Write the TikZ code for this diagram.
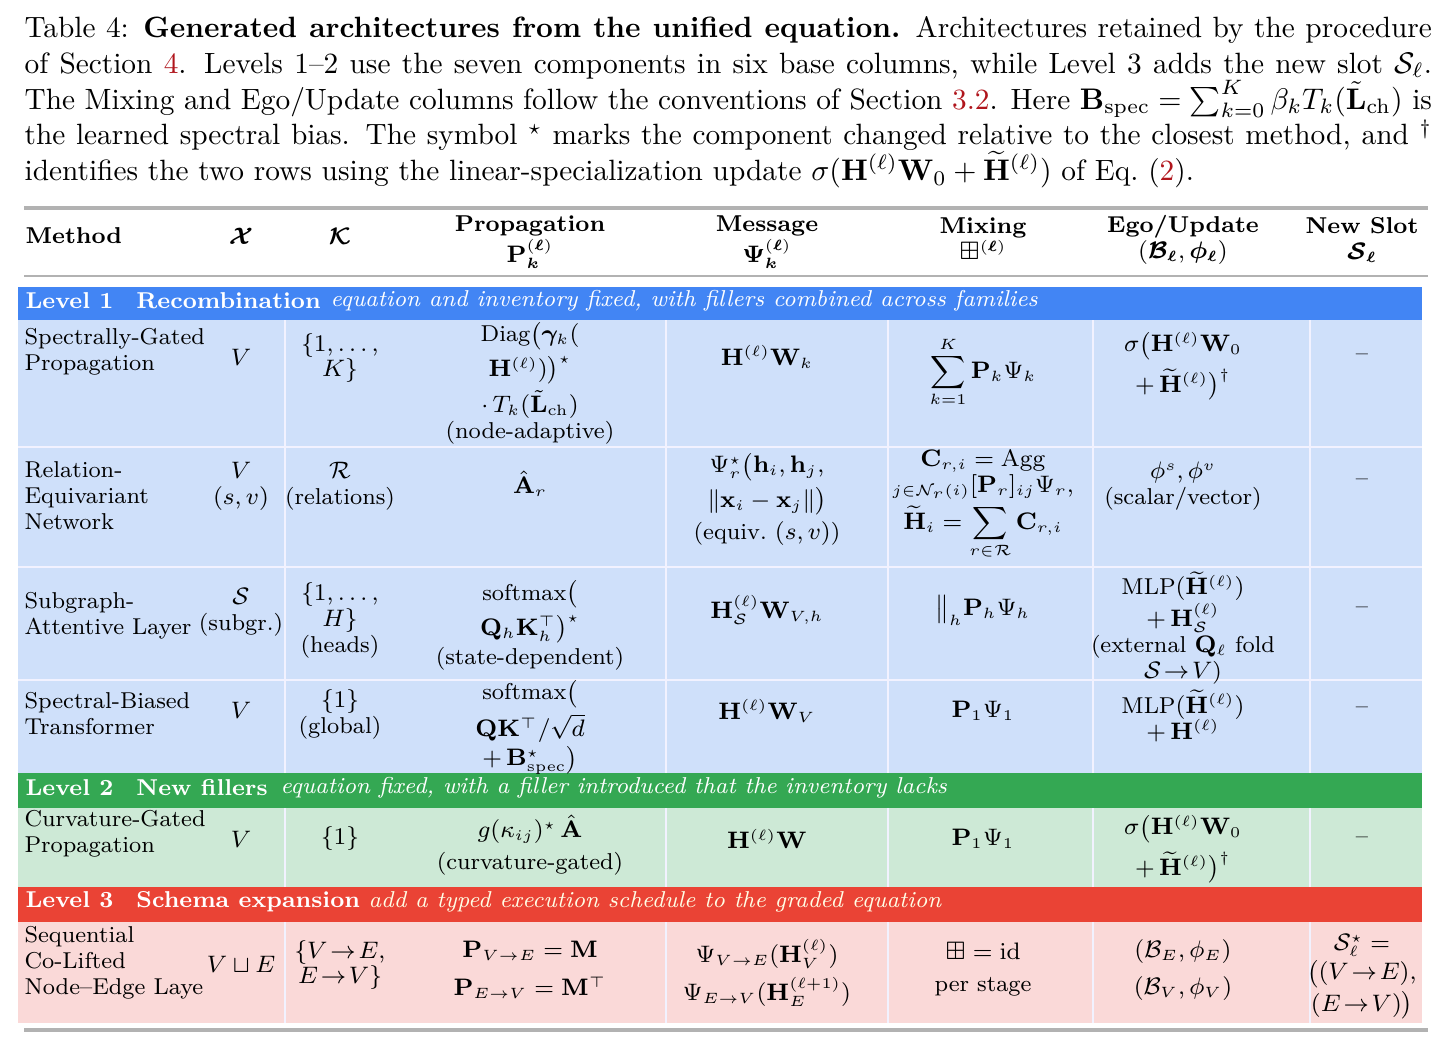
\documentclass[tikz,border=0pt]{standalone}
\usepackage{amsmath,amssymb,bm}
\usepackage{tikz}
\usetikzlibrary{positioning}
\definecolor{bandA}{HTML}{4285F4}
\definecolor{fillA}{HTML}{CFE0FA}
\definecolor{bandB}{HTML}{34A853}
\definecolor{fillB}{HTML}{CDE9D6}
\definecolor{bandC}{HTML}{EA4335}
\definecolor{fillC}{HTML}{FAD9D8}
\definecolor{refred}{HTML}{B0151C}
\newcommand{\cellfont}{\fontsize{7.7}{8.7}\selectfont}
\tikzset{%
  % styles for the table cells
  cell/.style = {align=center, font=\cellfont, inner sep=0pt},
  meth/.style = {anchor=north west, align=left, font=\cellfont, inner sep=0pt},
  head/.style = {align=center, font=\cellfont\bfseries, inner sep=0pt},
  band/.style = {anchor=west, font=\cellfont\bfseries, text=white, inner sep=0pt},
  note/.style = {anchor=west, font=\cellfont\itshape, text=white, inner sep=0pt},
  rule/.style = {draw=black!30, line width=1.2pt},
  sep/.style  = {draw=white!75!blue!20, line width=0.4pt},
}
\begin{document}
\begin{tikzpicture}[x=0.0118cm, y=-0.0118cm]
  \useasboundingbox (0,0) rectangle (1449,1049);
  % caption
  \node (cap) [anchor=north west, inner sep=0pt, text width=16.6cm, align=justify,
    font=\fontsize{9.85}{12}\selectfont] at (24,16)
   {Table 4: \textbf{Generated architectures from the unified equation.} Architectures retained by the procedure
    of Section \textcolor{refred}{4}. Levels 1--2 use the seven components in six base columns, while Level 3 adds the new slot $\mathcal{S}_\ell$.
    The Mixing and Ego/Update columns follow the conventions of Section \textcolor{refred}{3.2}. Here $\mathbf{B}_{\mathrm{spec}}=\sum_{k=0}^{K}\beta_kT_k(\tilde{\mathbf{L}}_{\mathrm{ch}})$ is
    the learned spectral bias. The symbol ${}^\star$ marks the component changed relative to the closest method, and ${}^\dagger$
    identifies the two rows using the linear-specialization update $\sigma(\mathbf{H}^{(\ell)}\mathbf{W}_0+\widetilde{\mathbf{H}}^{(\ell)})$ of Eq.~(\textcolor{refred}{2}).};

  % backgrounds
  \fill[bandA] (18,287) rectangle (1422,320);
  \fill[fillA] (18,320) rectangle (1422,773);
  \fill[bandB] (18,773) rectangle (1422,808);
  \fill[fillB] (18,808) rectangle (1422,887);
  \fill[bandC] (18,887) rectangle (1422,922);
  \fill[fillC] (18,922) rectangle (1422,1023);
  % faint grid
  \foreach \yy in {447,567,680} \draw[sep] (18,\yy) -- (1422,\yy);
  \foreach \xx in {285,666,888,1093,1310}{
    \draw[sep] (\xx,320) -- (\xx,773);
    \draw[sep] (\xx,808) -- (\xx,887);
    \draw[sep] (\xx,922) -- (\xx,1023);
  }
  % rules
  \draw[rule] (24,208) -- (1428,208);
  \draw[rule, line width=0.8pt] (24,276) -- (1428,276);
  \draw[rule] (24,1030) -- (1428,1030);

  % header
  \node (hMeth) [head, anchor=west] at (25,236) {Method};
  \node (hX) [head] at (241,236) {$\bm{\mathcal{X}}$};
  \node (hK) [head] at (340,236) {$\bm{\mathcal{K}}$};
  \node (hProp) [head] at (530,242) {Propagation\\ $\mathbf{P}_{\bm k}^{(\bm\ell)}$};
  \node (hMsg) [head] at (767,242) {Message\\ $\bm\Psi_{\bm k}^{(\bm\ell)}$};
  \node (hMix) [head] at (983,239) {Mixing\\ $\boxplus^{(\bm\ell)}$};
  \node (hEgo) [head] at (1183,240) {Ego/Update\\ $(\bm{\mathcal{B}_\ell},\bm{\phi_\ell})$};
  \node (hNew) [head] at (1362,240) {New Slot\\ $\bm{\mathcal{S}_\ell}$};

  % level bands
  \node (lev1) [band] at (25,301) {Level 1\quad Recombination};
  \node (lev1n) [note] at (330,301) {equation and inventory fixed, with fillers combined across families};
  \node (lev2) [band] at (25,788) {Level 2\quad New fillers};
  \node (lev2n) [note] at (280,788) {equation fixed, with a filler introduced that the inventory lacks};
  \node (lev3) [band] at (25,902) {Level 3\quad Schema expansion};
  \node (lev3n) [note, text=white!90!yellow] at (368,902) {add a typed execution schedule to the graded equation};

  % row 1
  \node (aMeth) [meth] at (24,328) {Spectrally-Gated\\Propagation};
  \node (aX) [cell] at (241,357) {$V$};
  \node (aK) [cell] at (340,358) {$\{1,\ldots,$\\$K\}$};
  \node (aProp) [cell] at (530,383) {Diag$\big(\bm\gamma_k($\\[1pt]$\mathbf{H}^{(\ell)})\big)^{\star}$\\[1pt]$\cdot\,T_k(\tilde{\mathbf{L}}_{\mathrm{ch}})$\\(node-adaptive)};
  \node (aMsg) [cell] at (767,357) {$\mathbf{H}^{(\ell)}\mathbf{W}_k$};
  \node (aMix) [cell] at (983,372) {$\displaystyle\sum_{k=1}^{K}\mathbf{P}_k\Psi_k$};
  \node (aEgo) [cell] at (1183,366) {$\sigma\big(\mathbf{H}^{(\ell)}\mathbf{W}_0$\\[2pt]$+\,\widetilde{\mathbf{H}}^{(\ell)}\big)^{\dagger}$};
  \node (aNew) [cell] at (1362,357) {--};

  % row 2
  \node (bMeth) [meth] at (24,461) {Relation-\\Equivariant\\Network};
  \node (bX) [cell] at (241,486) {$V$\\$(s,v)$};
  \node (bK) [cell] at (340,486) {$\mathcal{R}$\\(relations)};
  \node (bProp) [cell] at (530,484) {$\hat{\mathbf{A}}_r$};
  \node (bMsg) [cell] at (767,499) {$\Psi_r^{\star}\big(\mathbf{h}_i,\mathbf{h}_j,$\\[1pt]$\|\mathbf{x}_i-\mathbf{x}_j\|\big)$\\[1pt](equiv.~$(s,v)$)};
  \node (bMix) [cell] at (983,505) {$\mathbf{C}_{r,i}=\mathrm{Agg}$\\${}_{j\in\mathcal{N}_r(i)}[\mathbf{P}_r]_{ij}\Psi_r,$\\[1pt]$\displaystyle\widetilde{\mathbf{H}}_i=\sum_{r\in\mathcal{R}}\mathbf{C}_{r,i}$};
  \node (bEgo) [cell] at (1183,486) {$\phi^s,\phi^v$\\(scalar/vector)};
  \node (bNew) [cell] at (1362,482) {--};

  % row 3
  \node (cMeth) [meth] at (24,592) {Subgraph-\\Attentive Layer};
  \node (cX) [cell] at (241,612) {$\mathcal{S}$\\(subgr.)};
  \node (cK) [cell] at (340,620) {$\{1,\ldots,$\\$H\}$\\(heads)};
  \node (cProp) [cell] at (530,625) {softmax$\big($\\[1pt]$\mathbf{Q}_h\mathbf{K}_h^{\top}\big)^{\star}$\\[1pt](state-dependent)};
  \node (cMsg) [cell] at (767,610) {$\mathbf{H}_{\mathcal{S}}^{(\ell)}\mathbf{W}_{V,h}$};
  \node (cMix) [cell] at (983,610) {$\big\|_h\mathbf{P}_h\Psi_h$};
  \node (cEgo) [cell] at (1183,628) {MLP$(\widetilde{\mathbf{H}}^{(\ell)})$\\$+\,\mathbf{H}_{\mathcal{S}}^{(\ell)}$\\(external $\mathbf{Q}_\ell$ fold\\$\mathcal{S}\!\to\!V$)};
  \node (cNew) [cell] at (1362,610) {--};

  % row 4
  \node (dMeth) [meth] at (24,692) {Spectral-Biased\\Transformer};
  \node (dX) [cell] at (241,710) {$V$};
  \node (dK) [cell] at (340,714) {$\{1\}$\\(global)};
  \node (dProp) [cell] at (530,727) {softmax$\big($\\[1pt]$\mathbf{Q}\mathbf{K}^{\top}/\sqrt{d}$\\$+\,\mathbf{B}_{\mathrm{spec}}^{\star}\big)$};
  \node (dMsg) [cell] at (767,711) {$\mathbf{H}^{(\ell)}\mathbf{W}_V$};
  \node (dMix) [cell] at (983,711) {$\mathbf{P}_1\Psi_1$};
  \node (dEgo) [cell] at (1183,716) {MLP$(\widetilde{\mathbf{H}}^{(\ell)})$\\$+\,\mathbf{H}^{(\ell)}$};
  \node (dNew) [cell] at (1362,710) {--};

  % row 5
  \node (eMeth) [meth] at (24,810) {Curvature-Gated\\Propagation};
  \node (eX) [cell] at (241,839) {$V$};
  \node (eK) [cell] at (340,839) {$\{1\}$};
  \node (eProp) [cell] at (530,845) {$g(\kappa_{ij})^{\star}\,\hat{\mathbf{A}}$\\[2pt](curvature-gated)};
  \node (eMsg) [cell] at (767,839) {$\mathbf{H}^{(\ell)}\mathbf{W}$};
  \node (eMix) [cell] at (983,839) {$\mathbf{P}_1\Psi_1$};
  \node (eEgo) [cell] at (1183,849) {$\sigma\big(\mathbf{H}^{(\ell)}\mathbf{W}_0$\\[2pt]$+\,\widetilde{\mathbf{H}}^{(\ell)}\big)^{\dagger}$};
  \node (eNew) [cell] at (1362,840) {--};

  % row 6
  \begin{scope}
    \clip (18,922) rectangle (202,1023);
    \node (fMeth) [meth] at (24,926) {Sequential\\Co-Lifted\\Node--Edge Layer};
  \end{scope}
  \node (fX) [cell] at (241,964) {$V\sqcup E$};
  \node (fK) [cell] at (340,965) {$\{V\!\to\!E,$\\$E\!\to\!V\}$};
  \node (fProp) [cell] at (530,970) {$\mathbf{P}_{V\to E}=\mathbf{M}$\\[4pt]$\mathbf{P}_{E\to V}=\mathbf{M}^{\top}$};
  \node (fMsg) [cell] at (767,973) {$\Psi_{V\to E}(\mathbf{H}_V^{(\ell)})$\\[2pt]$\Psi_{E\to V}(\mathbf{H}_E^{(\ell+1)})$};
  \node (fMix) [cell] at (983,969) {$\boxplus=\mathrm{id}$\\[2pt]per stage};
  \node (fEgo) [cell] at (1183,970) {$(\mathcal{B}_E,\phi_E)$\\[4pt]$(\mathcal{B}_V,\phi_V)$};
  \node (fNew) [cell] at (1362,977) {$\mathcal{S}_\ell^{\star}=$\\$\big((V\!\to\!E),$\\$(E\!\to\!V)\big)$};
\end{tikzpicture}
\end{document}
